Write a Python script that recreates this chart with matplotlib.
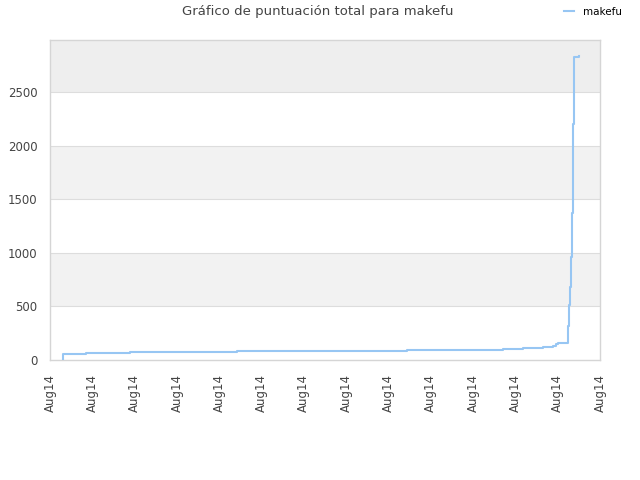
import matplotlib
matplotlib.use("Agg")
import matplotlib.pyplot as plt

title = "Gráfico de puntuación total para makefu"
series_name = "makefu"
tick_labels = ["Aug14"] * 14
x_vals = [0.30, 0.30, 0.84, 1.89, 4.42, 8.44, 10.46, 10.71, 11.18, 11.66, 11.90, 11.95, 12.01,
          12.24, 12.27, 12.29, 12.31, 12.34, 12.36, 12.39, 12.50]
y_vals = [0, 58, 68, 77, 87, 93, 96, 105, 115, 124, 135, 148, 159,
          317, 513, 684, 964, 1374, 2201, 2829, 2839]
y_ticks = [0, 500, 1000, 1500, 2000, 2500]

fig = plt.figure(figsize=(6.4, 4.8), dpi=100)
ax = fig.add_axes([50/640, 120/480, 550/640, 320/480])
ymax = 2985
ax.set_xlim(0, 13)
ax.set_ylim(0, ymax)

# alternating bands
bands = y_ticks + [ymax]
for i in range(len(bands) - 1):
    if i % 2 == 1:
        col = "#eeeeee" if i == len(bands) - 2 else "#f2f2f2"
        ax.axhspan(bands[i], bands[i + 1], color=col, zorder=0, lw=0)
for yt in y_ticks[1:]:
    ax.axhline(yt, color="#dddddd", lw=0.8, zorder=1)

ax.plot(x_vals, y_vals, drawstyle="steps-post", color="#97c6f3", lw=1.5, zorder=3, label=series_name)

ax.set_xticks(range(len(tick_labels)))
ax.set_xticklabels(tick_labels, rotation=90, fontsize=8.5, color="#444444")
ax.set_yticks(y_ticks)
ax.set_yticklabels([str(v) for v in y_ticks], fontsize=8.5, color="#444444")
ax.tick_params(axis="x", length=0, pad=10)
ax.tick_params(axis="y", length=0, pad=9)
for s in ax.spines.values():
    s.set_color("#d5d5d5")
    s.set_linewidth(1)

fig.text(0.497, 0.975, title, ha="center", va="center", fontsize=9.5, color="#444444")
leg = fig.legend(loc="upper right", bbox_to_anchor=(0.987, 1.005), frameon=False, fontsize=7.5,
                 handlelength=1.0, handletextpad=0.9)

fig.savefig("out.png", dpi=100)
